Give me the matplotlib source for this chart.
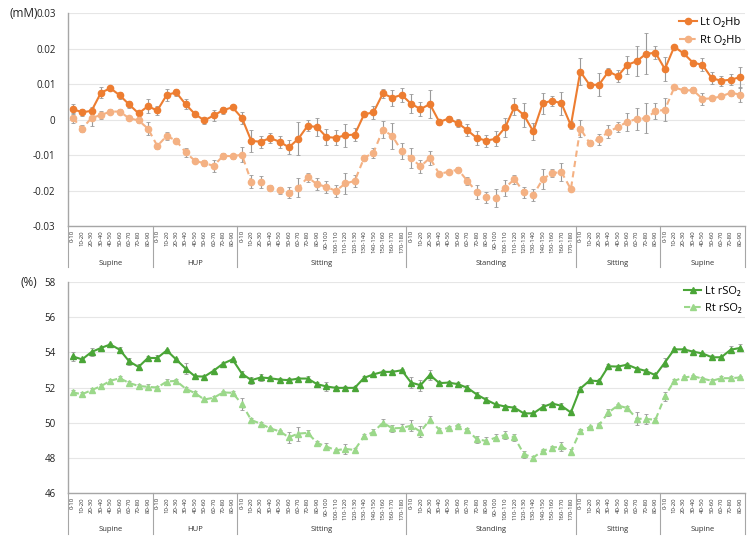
import matplotlib
matplotlib.use("Agg")
import matplotlib.pyplot as plt
import matplotlib.transforms as mtransforms
import numpy as np

plt.rcParams['font.family'] = ['Open Sans', 'DejaVu Sans']

groups = ["Supine", "HUP", "Sitting", "Standing", "Sitting", "Supine"]
group_sizes = [9, 9, 18, 18, 9, 9]

lt_o2hb = [0.0030, 0.0021, 0.0025, 0.0076, 0.0089, 0.0069, 0.0043, 0.0018, 0.0038,
           0.0026, 0.0070, 0.0077, 0.0044, 0.0016, -0.0002, 0.0012, 0.0027, 0.0035,
           0.0005, -0.0060, -0.0062, -0.0052, -0.0062, -0.0078, -0.0054, -0.0017, -0.0021,
           -0.0049, -0.0051, -0.0044, -0.0042, 0.0015, 0.0021, 0.0074, 0.0062, 0.0070,
           0.0045, 0.0030, 0.0044, -0.0006, 0.0003, -0.0010, -0.0030, -0.0052, -0.0059,
           -0.0054, -0.0022, 0.0036, 0.0013, -0.0033, 0.0046, 0.0054, 0.0046, -0.0016,
           0.0136, 0.0098, 0.0099, 0.0136, 0.0123, 0.0155, 0.0165, 0.0186, 0.0189,
           0.0143, 0.0206, 0.0187, 0.0161, 0.0155, 0.0117, 0.0110, 0.0113, 0.0120]
lt_o2hb_err = [1.5, 1.0, 1.0, 1.5, 0.6, 1.0, 1.0, 1.0, 2.0,
               1.4, 1.8, 1.1, 1.5, 0.7, 1.0, 1.6, 1.0, 0.6,
               1.7, 3.0, 1.7, 1.4, 1.7, 2.0, 4.7, 1.6, 2.5,
               2.2, 2.1, 3.2, 1.9, 0.8, 1.8, 1.4, 2.3, 1.9,
               2.7, 1.9, 3.9, 0.8, 0.7, 1.2, 1.7, 2.0, 1.7,
               2.1, 2.6, 2.4, 3.3, 2.4, 2.9, 1.4, 3.2, 1.1,
               3.7, 0.9, 3.2, 1.1, 1.6, 2.5, 4.3, 5.8, 1.9,
               3.4, 0.4, 0.7, 0.8, 1.8, 1.7, 1.4, 1.5, 3.0]
rt_o2hb = [0.0005, -0.0025, 0.0005, 0.0013, 0.0023, 0.0023, 0.0004, -0.0002, -0.0025,
           -0.0074, -0.0046, -0.0059, -0.0092, -0.0116, -0.0123, -0.0130, -0.0102, -0.0103,
           -0.0099, -0.0175, -0.0176, -0.0193, -0.0199, -0.0206, -0.0192, -0.0163, -0.0182,
           -0.0190, -0.0201, -0.0180, -0.0173, -0.0108, -0.0093, -0.0028, -0.0046, -0.0088,
           -0.0108, -0.0132, -0.0108, -0.0153, -0.0147, -0.0141, -0.0173, -0.0205, -0.0219,
           -0.0221, -0.0192, -0.0168, -0.0205, -0.0213, -0.0168, -0.0151, -0.0148, -0.0196,
           -0.0025, -0.0066, -0.0055, -0.0034, -0.0021, -0.0006, 0.0002, 0.0004, 0.0024,
           0.0028, 0.0091, 0.0083, 0.0083, 0.0059, 0.0060, 0.0066, 0.0076, 0.0071]
rt_o2hb_err = [1.3, 1.1, 2.4, 1.2, 0.8, 0.8, 0.6, 0.6, 1.9,
               0.8, 1.0, 0.7, 1.3, 0.7, 0.8, 1.7, 0.8, 0.7,
               2.1, 1.8, 1.6, 0.8, 1.0, 1.5, 2.6, 1.2, 1.7,
               1.7, 1.7, 2.9, 1.8, 0.9, 1.4, 2.3, 3.8, 2.3,
               2.8, 1.8, 2.1, 0.6, 0.6, 0.8, 1.2, 2.0, 1.6,
               2.5, 2.3, 1.3, 1.6, 1.7, 2.9, 1.1, 2.6, 0.6,
               2.5, 0.9, 1.6, 1.9, 1.4, 2.5, 3.1, 4.2, 2.3,
               3.2, 0.6, 0.8, 0.8, 1.7, 0.8, 0.7, 0.8, 2.0]

lt_rso2 = [53.77, 53.60, 54.02, 54.25, 54.45, 54.15, 53.49, 53.17, 53.68,
           53.68, 54.11, 53.60, 53.08, 52.64, 52.62, 52.96, 53.36, 53.60,
           52.79, 52.42, 52.57, 52.53, 52.45, 52.42, 52.51, 52.51, 52.19,
           52.06, 51.98, 51.98, 51.98, 52.55, 52.75, 52.89, 52.89, 52.98,
           52.28, 52.13, 52.72, 52.25, 52.28, 52.19, 51.98, 51.60, 51.30,
           51.04, 50.92, 50.85, 50.53, 50.53, 50.89, 51.09, 50.96, 50.58,
           51.94, 52.40, 52.36, 53.21, 53.19, 53.30, 53.08, 52.94, 52.70,
           53.42, 54.17, 54.17, 54.04, 53.94, 53.72, 53.72, 54.15, 54.25]
lt_rso2_err = [0.25, 0.10, 0.20, 0.10, 0.10, 0.15, 0.20, 0.15, 0.10,
               0.15, 0.10, 0.10, 0.30, 0.10, 0.10, 0.10, 0.10, 0.10,
               0.15, 0.20, 0.20, 0.10, 0.10, 0.10, 0.10, 0.15, 0.15,
               0.25, 0.10, 0.10, 0.10, 0.10, 0.10, 0.10, 0.10, 0.10,
               0.30, 0.30, 0.30, 0.10, 0.10, 0.10, 0.15, 0.15, 0.15,
               0.10, 0.10, 0.10, 0.10, 0.10, 0.15, 0.10, 0.15, 0.10,
               0.10, 0.10, 0.10, 0.10, 0.10, 0.10, 0.10, 0.10, 0.10,
               0.25, 0.10, 0.10, 0.10, 0.10, 0.15, 0.10, 0.20, 0.20]
rt_rso2 = [51.72, 51.62, 51.85, 52.08, 52.38, 52.53, 52.26, 52.09, 52.04,
           52.00, 52.34, 52.38, 51.94, 51.68, 51.32, 51.42, 51.72, 51.70,
           51.06, 50.15, 49.94, 49.68, 49.51, 49.17, 49.38, 49.42, 48.85,
           48.64, 48.43, 48.51, 48.45, 49.23, 49.47, 50.00, 49.68, 49.70,
           49.83, 49.49, 50.17, 49.60, 49.70, 49.83, 49.57, 49.06, 48.96,
           49.15, 49.30, 49.17, 48.21, 48.02, 48.40, 48.57, 48.66, 48.34,
           49.53, 49.74, 49.87, 50.58, 50.98, 50.83, 50.23, 50.21, 50.17,
           51.49, 52.38, 52.57, 52.64, 52.51, 52.38, 52.53, 52.53, 52.57]
rt_rso2_err = [0.15, 0.10, 0.10, 0.10, 0.10, 0.10, 0.10, 0.10, 0.15,
               0.10, 0.15, 0.10, 0.10, 0.10, 0.10, 0.10, 0.10, 0.10,
               0.35, 0.10, 0.10, 0.10, 0.10, 0.30, 0.40, 0.15, 0.10,
               0.20, 0.10, 0.30, 0.10, 0.15, 0.15, 0.20, 0.20, 0.20,
               0.30, 0.30, 0.20, 0.10, 0.10, 0.10, 0.10, 0.20, 0.20,
               0.20, 0.20, 0.20, 0.20, 0.10, 0.10, 0.10, 0.25, 0.15,
               0.10, 0.10, 0.10, 0.20, 0.10, 0.10, 0.35, 0.30, 0.10,
               0.25, 0.10, 0.10, 0.10, 0.10, 0.10, 0.10, 0.10, 0.10]

tick_labels = []
for n in group_sizes:
    tick_labels += [f"{i*10}-{(i+1)*10}" for i in range(n)]

x = np.arange(len(tick_labels))

C_LT_O = "#ED7D31"
C_RT_O = "#F4B183"
C_LT_G = "#4AA537"
C_RT_G = "#9BD88A"
GRID = "#E6E6E6"
SPINE = "#A6A6A6"

fig = plt.figure(figsize=(7.5, 5.38), dpi=100)
ax1 = fig.add_axes([0.0907, 0.580, 0.9023, 0.395])
ax2 = fig.add_axes([0.0907, 0.0836, 0.9023, 0.3922])


def style_axis(ax):
    ax.set_xlim(-0.5, len(x) - 0.5)
    for s in ["top", "right"]:
        ax.spines[s].set_visible(False)
    ax.spines["left"].set_color(SPINE)
    ax.spines["bottom"].set_color(SPINE)
    ax.spines["left"].set_linewidth(1.0)
    ax.spines["bottom"].set_linewidth(1.0)
    ax.grid(axis="y", color=GRID, linewidth=0.8)
    ax.set_axisbelow(True)
    ax.tick_params(axis="y", length=0, labelsize=7, pad=9, colors="#222222")
    ax.set_xticks(x)
    ax.set_xticklabels(tick_labels, rotation=90, fontsize=4.3, color="#333333")
    ax.tick_params(axis="x", length=0, pad=3)
    trans = mtransforms.blended_transform_factory(ax.transData, ax.transAxes)
    bounds = np.concatenate([[0], np.cumsum(group_sizes)]) - 0.5
    for b in bounds:
        ax.plot([b, b], [0, -0.195], transform=trans, color=SPINE, lw=0.8,
                clip_on=False)
    for i, g in enumerate(groups):
        c = (bounds[i] + bounds[i + 1]) / 2
        ax.text(c, -0.175, g, transform=trans, ha="center", va="center",
                fontsize=5.5, color="#333333")


ekw = dict(ecolor="#9A9A9A", elinewidth=0.8, capsize=1.5, capthick=0.6)

ax1.errorbar(x, lt_o2hb, yerr=np.array(lt_o2hb_err) * 0.001, color=C_LT_O,
             marker="o", markersize=4.5, linewidth=1.5, label="Lt O\u2082Hb", **ekw)
ax1.errorbar(x, rt_o2hb, yerr=np.array(rt_o2hb_err) * 0.001, color=C_RT_O,
             marker="o", markersize=4.5, linewidth=1.5, linestyle=(0, (3, 2)),
             label="Rt O\u2082Hb", **ekw)
ax1.set_ylim(-0.03, 0.03)
ax1.set_yticks([-0.03, -0.02, -0.01, 0, 0.01, 0.02, 0.03])
ax1.set_yticklabels(["-0.03", "-0.02", "-0.01", "0", "0.01", "0.02", "0.03"])
style_axis(ax1)
ax1.text(-0.087, 1.0, "(mM)", transform=ax1.transAxes, fontsize=8.5,
         ha="left", va="center", color="#222222")
h, l = ax1.get_legend_handles_labels()
ax1.legend([hh[0] for hh in h], l, loc="upper right", bbox_to_anchor=(1.01, 1.03),
           frameon=False, fontsize=8, handlelength=1.6, handletextpad=0.3,
           labelspacing=0.6)

ax2.errorbar(x, lt_rso2, yerr=lt_rso2_err, color=C_LT_G, marker="^",
             markersize=4.5, linewidth=1.5, label="Lt rSO\u2082", **ekw)
ax2.errorbar(x, rt_rso2, yerr=rt_rso2_err, color=C_RT_G, marker="^",
             markersize=4.5, linewidth=1.5, linestyle=(0, (3, 2)),
             label="Rt rSO\u2082", **ekw)
ax2.set_ylim(46, 58)
ax2.set_yticks([46, 48, 50, 52, 54, 56, 58])
style_axis(ax2)
ax2.text(-0.07, 1.0, "(%)", transform=ax2.transAxes, fontsize=8.5,
         ha="left", va="center", color="#222222")
h, l = ax2.get_legend_handles_labels()
ax2.legend([hh[0] for hh in h], l, loc="upper right", bbox_to_anchor=(1.01, 1.03),
           frameon=False, fontsize=8, handlelength=1.6, handletextpad=0.3,
           labelspacing=0.6)

fig.savefig("out.png", dpi=100)
